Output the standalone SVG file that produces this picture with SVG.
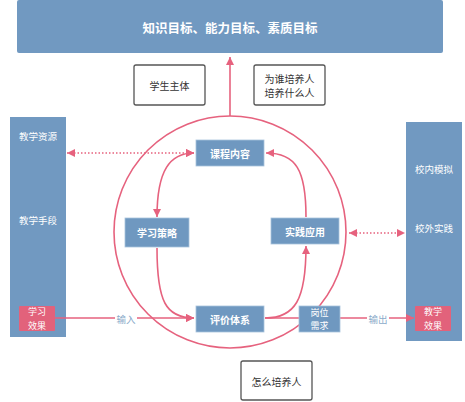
<svg xmlns="http://www.w3.org/2000/svg" width="465" height="402" viewBox="0 0 465 402">
<style>
.blue{fill:#7199c1;}
.nb{fill:#6f98c0;stroke:#a9c3dc;stroke-width:0.8;}
.red{fill:#e2627b;}
.wbox{fill:#fff;stroke:#555;stroke-width:1.3;}
.ln{fill:none;stroke:#e6627e;stroke-width:1.6;}
.dot{fill:none;stroke:#e6627e;stroke-width:1.5;stroke-dasharray:1.5 2;}
text{font-family:"Noto Sans CJK SC","Liberation Sans",sans-serif;text-anchor:middle;dominant-baseline:central;}
.t1{fill:#fff;font-size:12.5px;font-weight:bold;}
.tn{fill:#fff;font-size:10px;font-weight:bold;}
.tp{fill:#fff;font-size:9.5px;}
.ts{fill:#fff;font-size:9px;}
.tb{fill:#333;font-size:10px;}
.tl{fill:#8cabca;font-size:9.5px;}
</style>
<defs>
<marker id="ah" viewBox="0 0 8 8" refX="8" refY="4" markerWidth="8" markerHeight="8" markerUnits="userSpaceOnUse" orient="auto-start-reverse">
<path d="M0,0 L8,4 L0,8 z" fill="#e6627e"/>
</marker>
</defs>
<rect x="0" y="0" width="465" height="402" fill="#fff"/>

<g id="goal"><rect class="blue" x="17" y="0" width="426" height="53" rx="2"/><text class="t1" x="230" y="27">知识目标、能力目标、素质目标</text></g>
<g id="left-panel"><rect class="blue" x="10" y="117" width="56" height="220"/><text class="tp" x="38" y="136">教学资源</text><text class="tp" x="38" y="220">教学手段</text></g>
<g id="right-panel"><rect class="blue" x="406" y="122" width="56" height="219"/><text class="tp" x="434" y="169">校内模拟</text><text class="tp" x="434" y="228">校外实践</text></g>

<g id="connectors">
<circle class="ln" cx="230" cy="232" r="116"/>
<path class="ln" d="M230 116 L230 57" marker-end="url(#ah)"/>
<path class="dot" d="M67 153 L194 153" marker-start="url(#ah)" marker-end="url(#ah)"/>
<path class="dot" d="M349 233 L405 233" marker-start="url(#ah)" marker-end="url(#ah)"/>
<path class="ln" d="M194 153 C170 153 157 170 157 217" marker-start="url(#ah)" marker-end="url(#ah)"/>
<path class="ln" d="M157 248 C157 302 166 318 194 318" marker-end="url(#ah)"/>
<path class="ln" d="M265 318 C295 318 306 300 306 246" marker-end="url(#ah)"/>
<path class="ln" d="M306 217 C306 170 296 153 266 153" marker-end="url(#ah)"/>
<path class="ln" d="M55 318 L194 318" marker-end="url(#ah)"/>
<path class="ln" d="M265 318 L299 318"/>
<path class="ln" d="M340 318 L414 318" marker-end="url(#ah)"/>
<rect x="115" y="312" width="22" height="13" fill="#fff"/>
<text class="tl" x="126" y="319">输入</text>
<rect x="367" y="312" width="22" height="13" fill="#fff"/>
<text class="tl" x="378" y="319">输出</text>
</g>

<g id="xuesheng"><rect class="wbox" x="134" y="65" width="71" height="40" rx="2"/><text class="tb" x="169.5" y="85">学生主体</text></g>
<g id="weishui"><rect class="wbox" x="254" y="65" width="71" height="40" rx="2"/><text class="tb" x="289.5" y="78">为谁培养人</text><text class="tb" x="289.5" y="92">培养什么人</text></g>
<g id="zenme"><rect class="wbox" x="241" y="361" width="71" height="39" rx="2"/><text class="tb" x="276.5" y="381">怎么培养人</text></g>

<g id="kecheng"><rect class="nb" x="196" y="140" width="68" height="26"/><text class="tn" x="230" y="153">课程内容</text></g>
<g id="xuexi"><rect class="nb" x="125" y="218" width="64" height="29"/><text class="tn" x="157" y="232.5">学习策略</text></g>
<g id="shijian"><rect class="nb" x="271" y="218" width="68" height="26"/><text class="tn" x="305" y="231">实践应用</text></g>
<g id="pingjia"><rect class="nb" x="196" y="306" width="68" height="26"/><text class="tn" x="230" y="319">评价体系</text></g>
<g id="gangwei"><rect class="nb" x="299" y="306" width="41" height="26"/><text class="ts" x="319.5" y="312">岗位</text><text class="ts" x="319.5" y="325.5">需求</text></g>
<g id="xxxg"><rect class="red" x="19" y="306" width="36" height="25" rx="1"/><text class="ts" x="37" y="311.5">学习</text><text class="ts" x="37" y="325">效果</text></g>
<g id="jxxg"><rect class="red" x="415" y="306" width="36" height="25" rx="1"/><text class="ts" x="433" y="311.5">教学</text><text class="ts" x="433" y="325">效果</text></g>
</svg>
